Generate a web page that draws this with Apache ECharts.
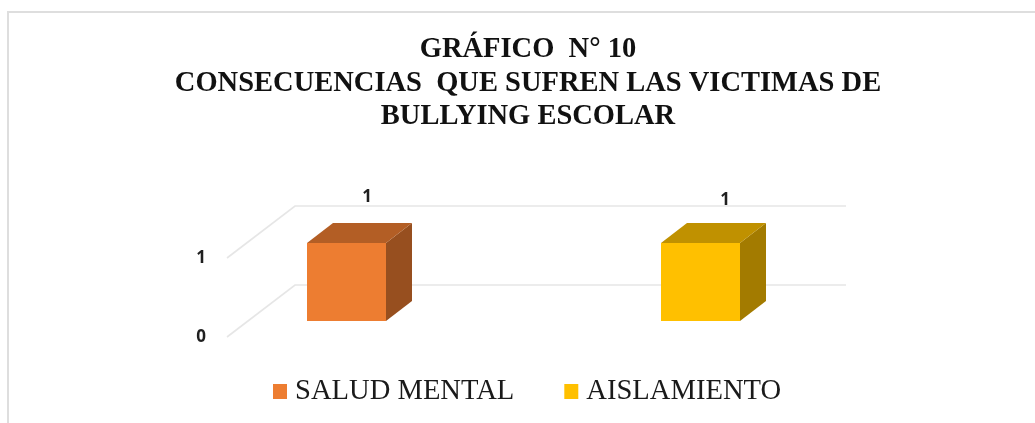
<!DOCTYPE html>
<html><head><meta charset="utf-8">
<style>html,body{margin:0;padding:0;background:#fff}#c{width:1035px;height:423px;filter:blur(0.45px)}</style>
<script src="https://cdn.jsdelivr.net/npm/echarts@6/dist/echarts.min.js"></script>
</head><body><div id="c"></div>
<script>
const titleLines = ['GRÁFICO  N° 10','CONSECUENCIAS  QUE SUFREN LAS VICTIMAS DE','BULLYING ESCOLAR'];
const categories = ['SALUD MENTAL','AISLAMIENTO'];
const saludMental = [1, null];
const aislamiento = [null, 1];
const axisTicks = [0, 1];
const colorsFront = ['#ED7D31','#FFC000'];
const colorsTop = ['#B35E25','#C09100'];
const colorsSide = ['#974F1F','#A37B00'];

const chart = echarts.init(document.getElementById('c'));
const wallDx = 68, wallDy = -52, wallEnd = 551, barDepthX = 26, barDepthY = -20, barW = 79;

function cube(idx){
  return function(params, api){
    if (api.value(1) == null || isNaN(api.value(1))) return;
    const p = api.coord([api.value(0), api.value(1)]);
    const b = api.coord([api.value(0), 0]);
    const x = p[0]-barW/2, yT = p[1]-15, yB = b[1]-16, dx = barDepthX, dy = barDepthY;
    const lblDx = idx === 0 ? 20.5 : 24.5, lblY = idx === 0 ? 197 : 200;
    return {type:'group',children:[
      {type:'polygon',shape:{points:[[x+barW,yT],[x+barW+dx,yT+dy],[x+barW+dx,yB+dy],[x+barW,yB]]},style:{fill:colorsSide[idx]}},
      {type:'polygon',shape:{points:[[x,yT],[x+dx,yT+dy],[x+barW+dx,yT+dy],[x+barW,yT]]},style:{fill:colorsTop[idx]}},
      {type:'rect',shape:{x:x,y:yT,width:barW,height:yB-yT},style:{fill:colorsFront[idx]}},
      {type:'text',x:p[0]+lblDx,y:lblY,style:{text:String(api.value(1)),fill:'#1f1f1f',font:'bold 17px "Open Sans"',align:'center',verticalAlign:'middle'}}
    ]};
  };
}

chart.setOption({
  animation:false,
  backgroundColor:'#fff',
  title:{text:titleLines.join('\n'),left:523,textAlign:'center',top:28,
    textStyle:{fontFamily:'Liberation Serif',fontWeight:'bold',fontSize:28.5,lineHeight:33.5,color:'#111'}},
  legend:{data:categories.map(n=>({name:n,icon:'rect'})),left:268,top:372,itemWidth:14,itemHeight:15,itemGap:50,
    textStyle:{fontFamily:'Liberation Serif',fontSize:28.6,color:'#1a1a1a',padding:[0,0,0,3]}},
  grid:{left:169.5,width:708,top:258,height:79},
  xAxis:{type:'category',data:categories,show:false},
  yAxis:{type:'value',min:0,max:1,interval:1,offset:-36.5,axisLine:{show:false},axisTick:{show:false},splitLine:{show:false},
    axisLabel:{color:'#1f1f1f',fontFamily:'Open Sans',fontWeight:'bold',fontSize:17,margin:0,align:'right'}},
  series:[
    {type:'custom',name:'grid',silent:true,z:1,data:axisTicks.map(v=>[0,v]),
      renderItem:function(params,api){
        const y = api.coord([0,api.value(1)])[1], x0 = 227;
        return {type:'polyline',shape:{points:[[x0,y],[x0+wallDx,y+wallDy],[x0+wallDx+wallEnd,y+wallDy]]},
          style:{fill:'none',stroke:'#E6E6E6',lineWidth:1.6}};
      }},
    {type:'custom',name:categories[0],z:3,itemStyle:{color:colorsFront[0]},renderItem:cube(0),
      data:saludMental.map((v,i)=>[i,v]),encode:{x:0,y:1}},
    {type:'custom',name:categories[1],z:3,itemStyle:{color:colorsFront[1]},renderItem:cube(1),
      data:aislamiento.map((v,i)=>[i,v]),encode:{x:0,y:1}}
  ],
  graphic:[{type:'polyline',silent:true,shape:{points:[[8,423],[8,12],[1035,12]]},style:{fill:'none',stroke:'#DEDEDE',lineWidth:2}}]
});
</script></body></html>
